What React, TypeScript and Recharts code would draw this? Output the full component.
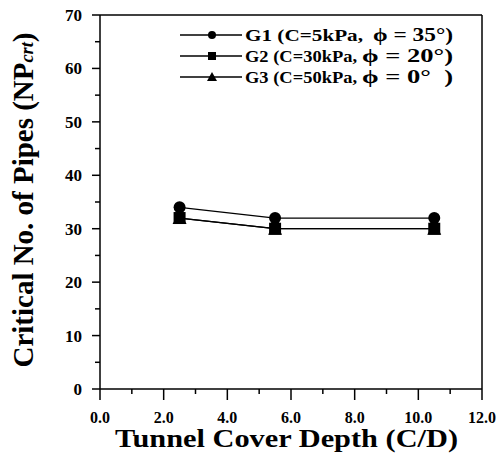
import { LineChart, Line, XAxis, YAxis, ReferenceLine } from 'recharts';

const depths = [2.5, 5.5, 10.5];
const g1Values = [34, 32, 32];
const g2Values = [32, 30, 30];
const g3Values = [32, 30, 30];

const xTicks = [0, 1, 2, 3, 4, 5, 6, 7, 8, 9, 10, 11, 12];
const yTicks = [0, 5, 10, 15, 20, 25, 30, 35, 40, 45, 50, 55, 60, 65, 70];

// legend rows: label, phi part, and stretched widths to mimic the scanned font
const seriesInfo = [
  { key: 'g1', name: 'G1 (C=5kPa,', phi: 'ϕ = 35°)', nameW: 118, phiX: 193, phiW: 80, shape: 'circle' },
  { key: 'g2', name: 'G2 (C=30kPa,', phi: 'ϕ = 20°)', nameW: 112, phiX: 182, phiW: 91, shape: 'square' },
  { key: 'g3', name: 'G3 (C=50kPa,', phi: 'ϕ = 0°\u00a0\u00a0)', nameW: 112, phiX: 182, phiW: 91, shape: 'triangle' },
];

const data = depths.map((d, i) => ({
  depth: d,
  g1: g1Values[i],
  g2: g2Values[i],
  g3: g3Values[i],
}));

const FONT = '"Liberation Serif", "Times New Roman", serif';

function Marker({ cx, cy, shape, s }: { cx: number; cy: number; shape: string; s: number }) {
  if (shape === 'circle') return <circle cx={cx} cy={cy} r={s / 2} fill="#000" />;
  if (shape === 'square')
    return <rect x={cx - s / 2} y={cy - s / 2} width={s} height={s} fill="#000" />;
  return (
    <polygon
      points={`${cx},${cy - s / 2 - 1} ${cx - s / 2 - 1},${cy + s / 2} ${cx + s / 2 + 1},${cy + s / 2}`}
      fill="#000"
    />
  );
}

const makeDot = (shape: string) => (props: any) => {
  const { cx, cy, index } = props;
  if (cx == null || cy == null) return <g key={index} />;
  return (
    <g key={`${shape}-${index}`}>
      <Marker cx={cx} cy={cy} shape={shape} s={12} />
    </g>
  );
};

const XTick = (props: any) => {
  const { x, y, payload } = props;
  const v = payload.value as number;
  const major = v % 2 === 0;
  return (
    <g>
      <line x1={x} x2={x} y1={y} y2={y + (major ? 11 : 5)} stroke="#000" strokeWidth={1.5} />
      {major && (
        <text x={x} y={y + 34} textAnchor="middle" fontFamily={FONT} fontWeight="bold" fontSize={16} fill="#000">
          {v.toFixed(1)}
        </text>
      )}
    </g>
  );
};

const YTick = (props: any) => {
  const { x, y, payload } = props;
  const v = payload.value as number;
  const major = v % 10 === 0;
  return (
    <g>
      <line x1={x} x2={x - (major ? 8 : 5)} y1={y} y2={y} stroke="#000" strokeWidth={1.5} />
      {major && (
        <text x={x - 18} y={y + 6} textAnchor="end" fontFamily={FONT} fontWeight="bold" fontSize={17} fill="#000">
          {v}
        </text>
      )}
    </g>
  );
};

const LegendBox = () => (
  <svg width={300} height={70} style={{ position: 'absolute', left: 180, top: 25 }}>
    {seriesInfo.map((s, i) => {
      const cy = 10 + i * 21;
      return (
        <g key={s.key}>
          <line x1={0} x2={62} y1={cy} y2={cy} stroke="#000" strokeWidth={1.3} />
          <Marker cx={32} cy={cy} shape={s.shape} s={8} />
          <text
            x={65}
            y={cy + 6}
            fontFamily={FONT}
            fontWeight="bold"
            fontSize={17}
            fill="#000"
            textLength={s.nameW}
            lengthAdjust="spacingAndGlyphs"
          >
            {s.name}
          </text>
          <text
            x={s.phiX}
            y={cy + 6}
            fontFamily={FONT}
            fontWeight="bold"
            fontSize={19}
            fill="#000"
            textLength={s.phiW}
            lengthAdjust="spacingAndGlyphs"
          >
            {s.phi}
          </text>
        </g>
      );
    })}
  </svg>
);

export default function App() {
  return (
    <div style={{ position: 'absolute', left: 0, top: 0, width: 500, height: 458, background: '#fff' }}>
      <LineChart width={500} height={458} data={data} margin={{ top: 15, right: 18, left: 0, bottom: 0 }}>
        <XAxis
          dataKey="depth"
          type="number"
          domain={[0, 12]}
          ticks={xTicks}
          interval={0}
          tickSize={0}
          tickMargin={0}
          tickLine={false}
          tick={XTick}
          height={69}
          axisLine={{ stroke: '#000', strokeWidth: 1.5 }}
          label={{
            content: () => (
              <text
                x={115}
                y={447}
                fontFamily={FONT}
                fontWeight="bold"
                fontSize={25}
                fill="#000"
                textLength={343}
                lengthAdjust="spacingAndGlyphs"
              >
                Tunnel Cover Depth (C/D)
              </text>
            ),
          }}
        />
        <YAxis
          type="number"
          domain={[0, 70]}
          ticks={yTicks}
          interval={0}
          tickSize={0}
          tickMargin={0}
          tickLine={false}
          tick={YTick}
          width={100}
          axisLine={{ stroke: '#000', strokeWidth: 1.5 }}
          label={{
            content: () => (
              <text
                transform="translate(33,200) rotate(-90)"
                textAnchor="middle"
                fontFamily={FONT}
                fontWeight="bold"
                fontSize={30}
                fill="#000"
                textLength={335}
                lengthAdjust="spacingAndGlyphs"
              >
                Critical No. of Pipes (NP
                <tspan fontStyle="italic" fontSize={19}>crt</tspan>
                <tspan>)</tspan>
              </text>
            ),
          }}
        />
        <ReferenceLine y={70} stroke="#000" strokeWidth={1.5} />
        <ReferenceLine x={12} stroke="#000" strokeWidth={1.5} />
        <Line dataKey="g3" stroke="#000" strokeWidth={1.3} dot={makeDot('triangle')} isAnimationActive={false} />
        <Line dataKey="g2" stroke="#000" strokeWidth={1.3} dot={makeDot('square')} isAnimationActive={false} />
        <Line dataKey="g1" stroke="#000" strokeWidth={1.3} dot={makeDot('circle')} isAnimationActive={false} />
      </LineChart>
      <LegendBox />
    </div>
  );
}
